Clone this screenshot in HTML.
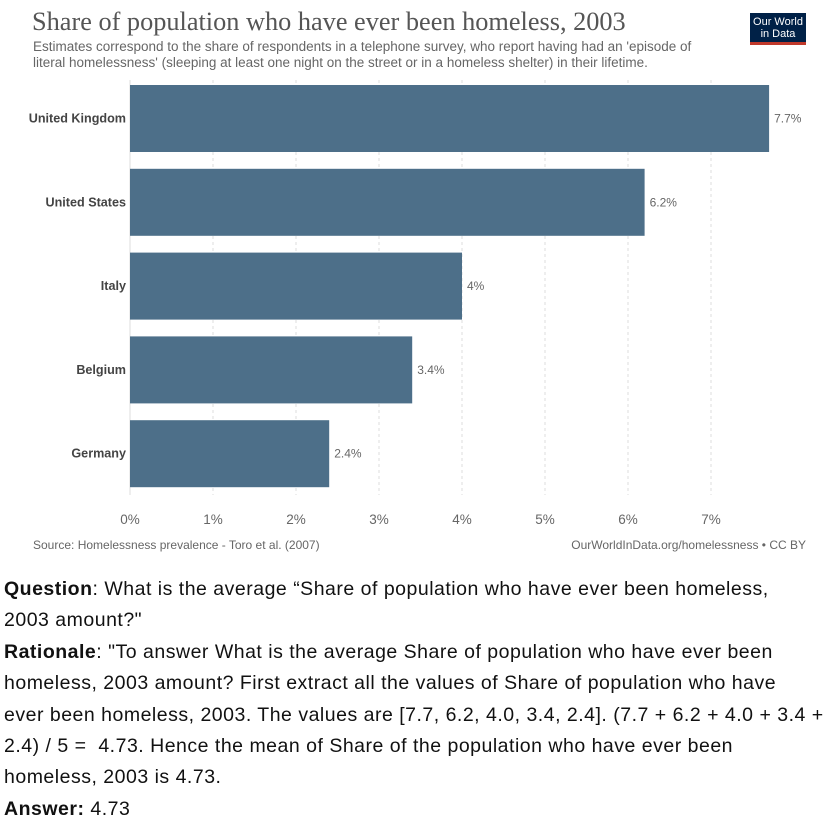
<!DOCTYPE html>
<html><head><meta charset="utf-8"><style>
body{margin:0;width:830px;height:819px;background:#fff;font-family:"Liberation Sans",sans-serif;position:relative;overflow:hidden}
.t{position:absolute;white-space:nowrap}
.q{position:absolute;left:4px;font-size:19.5px;color:#111;line-height:31.4px;white-space:nowrap;letter-spacing:0.5px}
</style></head><body>
<div class="t" style="left:32px;top:7px;font-family:'Liberation Serif',serif;font-size:26.3px;color:#555">Share of population who have ever been homeless, 2003</div>
<div class="t" style="left:33px;top:39px;font-size:13.5px;color:#666;line-height:16px">Estimates correspond to the share of respondents in a telephone survey, who report having had an 'episode of<br>literal homelessness' (sleeping at least one night on the street or in a homeless shelter) in their lifetime.</div>
<div style="position:absolute;left:750px;top:13px;width:56px;height:32px;background:#002147;border-bottom:3px solid #c0392b;color:#fff;font-size:11px;line-height:12px;text-align:center;padding-top:3px;box-sizing:border-box">Our World<br>in Data</div>
<svg id="chart" width="830" height="560" style="position:absolute;left:0;top:0"></svg>
<div class="t" style="left:33px;top:538px;font-size:12px;color:#666">Source: Homelessness prevalence - Toro et al. (2007)</div>
<div class="t" style="right:24px;top:538px;font-size:12px;color:#666">OurWorldInData.org/homelessness • CC BY</div>
<div class="q" style="top:574px">
<span><b>Question</b>: What is the average “Share of population who have ever been homeless,<br>2003 amount?"</span><br>
<span><b>Rationale</b>: "To answer What is the average Share of population who have ever been<br>homeless, 2003 amount? First extract all the values of Share of population who have<br>ever been homeless, 2003. The values are [7.7, 6.2, 4.0, 3.4, 2.4]. (7.7 + 6.2 + 4.0 + 3.4 +<br>2.4) / 5 =&nbsp; 4.73. Hence the mean of Share of the population who have ever been<br>homeless, 2003 is 4.73.</span><br>
<span><b>Answer:</b> 4.73</span>
</div>
<script>
const categories=["United Kingdom","United States","Italy","Belgium","Germany"];
const values=[7.7,6.2,4.0,3.4,2.4];
const valueLabels=["7.7%","6.2%","4%","3.4%","2.4%"];
const ticks=[0,1,2,3,4,5,6,7];
const NS="http://www.w3.org/2000/svg",svg=document.getElementById("chart");
const x=v=>130+v*83, bandY=i=>85+i*83.8, bh=67;
function mk(t,a,txt){const e=document.createElementNS(NS,t);for(const k in a)e.setAttribute(k,a[k]);if(txt!=null)e.textContent=txt;svg.appendChild(e);return e;}
ticks.forEach(t=>{
 const l=mk("line",{x1:x(t),x2:x(t),y1:80,y2:495,stroke:"#ddd","stroke-dasharray":t?"3,3":"none"});
 
 
 const tx=mk("text",{x:x(t),y:524,"text-anchor":"middle","font-size":"13.5","fill":"#666","font-family":"Liberation Sans"},t+"%");
 
 
});
categories.forEach((c,i)=>{
 const y=bandY(i);
 const r=mk("rect",{x:x(0),y:y,width:x(values[i])-x(0),height:bh,fill:"#4d6f89"});
 
 
 const lb=mk("text",{x:126,y:y+bh/2+4,"text-anchor":"end","font-size":"12.6","font-weight":"bold","fill":"#444","font-family":"Liberation Sans"},c);
 
 
 const v=mk("text",{x:x(values[i])+5,y:y+bh/2+4,"font-size":"12","fill":"#666","font-family":"Liberation Sans"},valueLabels[i]);
 
 
});
</script>
</body></html>
